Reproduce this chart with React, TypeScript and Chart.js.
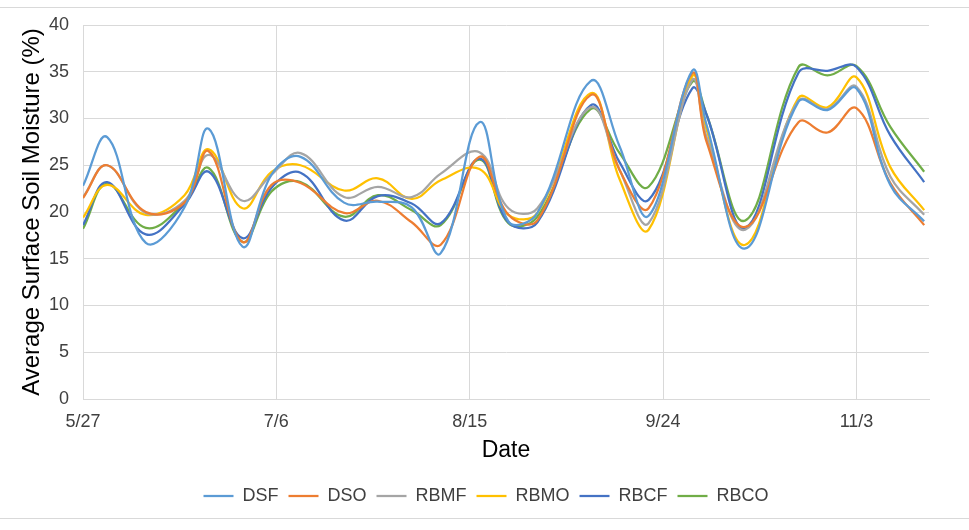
import { useEffect, useRef } from "react";
import { Chart, registerables } from "chart.js";

Chart.register(...registerables);

const dates = [
  "5/27", "6/1", "6/9", "6/17", "6/22", "6/29", "7/5", "7/11", "7/20", "7/27",
  "8/3", "8/9", "8/17", "8/23", "8/29", "9/9", "9/15", "9/21", "9/30", "10/3",
  "10/11", "10/22", "10/28", "11/3", "11/10", "11/17",
];

const DSF = [22.8, 28.0, 16.7, 20.5, 28.9, 16.3, 24.0, 25.9, 21.0, 21.1, 20.5, 15.6, 29.6, 19.0, 19.9, 34.0, 27.0, 19.6, 35.1, 29.3, 16.1, 31.8, 30.9, 33.2, 22.9, 19.0];
const DSO = [21.5, 25.0, 20.0, 21.0, 26.5, 16.8, 22.9, 23.1, 19.9, 21.2, 18.9, 16.5, 25.9, 19.7, 19.1, 32.5, 24.5, 20.4, 34.8, 27.5, 18.4, 29.6, 28.5, 31.1, 23.1, 18.6];
const RBMF = [21.6, 25.0, 19.9, 21.2, 26.1, 21.2, 24.0, 26.3, 21.6, 22.7, 21.6, 24.1, 26.4, 20.4, 20.4, 31.2, 24.5, 18.8, 34.1, 28.0, 18.1, 31.9, 31.0, 33.4, 23.8, 19.7];
const RBMO = [19.4, 22.9, 19.7, 21.8, 26.7, 20.4, 24.3, 25.0, 22.3, 23.6, 21.4, 23.4, 24.6, 19.7, 19.9, 32.7, 23.5, 18.1, 34.5, 28.8, 16.5, 32.2, 31.2, 34.4, 24.8, 20.2];
const RBCF = [18.6, 23.2, 17.6, 20.8, 24.3, 17.2, 22.6, 24.2, 19.1, 21.7, 20.9, 18.8, 25.7, 18.9, 18.9, 31.4, 25.3, 21.3, 33.2, 30.4, 18.3, 34.9, 35.1, 35.5, 28.2, 23.2];
const RBCO = [18.2, 23.0, 18.3, 21.0, 24.7, 16.8, 22.2, 23.2, 19.5, 21.8, 20.2, 18.6, 25.6, 18.8, 19.5, 31.0, 26.3, 22.7, 33.9, 30.4, 19.1, 35.5, 34.6, 35.6, 29.1, 24.3];

const seriesNames = ["DSF", "DSO", "RBMF", "RBMO", "RBCF", "RBCO"];
const seriesValues = [DSF, DSO, RBMF, RBMO, RBCF, RBCO];
const seriesColors = ["#5B9BD5", "#ED7D31", "#A5A5A5", "#FFC000", "#4472C4", "#70AD47"];

const xTickLabels = ["5/27", "7/6", "8/15", "9/24", "11/3"];
const xMinLabel = "5/27";
const xMaxLabel = "11/18";

const FONT = "'Liberation Sans', Arial, Helvetica, sans-serif";
const YEAR = 2019;

function dayOffset(s: string): number {
  const [m, d] = s.split("/").map(Number);
  const [bm, bd] = xMinLabel.split("/").map(Number);
  return Math.round(
    (Date.UTC(YEAR, m - 1, d) - Date.UTC(YEAR, bm - 1, bd)) / 86400000
  );
}

function dayLabel(v: number): string {
  const [bm, bd] = xMinLabel.split("/").map(Number);
  const dt = new Date(Date.UTC(YEAR, bm - 1, bd + Math.round(v)));
  return `${dt.getUTCMonth() + 1}/${dt.getUTCDate()}`;
}

export default function App() {
  const ref = useRef<HTMLCanvasElement | null>(null);

  useEffect(() => {
    if (!ref.current) return;
    const chart = new Chart(ref.current, {
      type: "line",
      data: {
        datasets: seriesNames.map((name, i) => ({
          label: name,
          data: dates.map((d, j) => ({ x: dayOffset(d), y: seriesValues[i][j] })),
          borderColor: seriesColors[i],
          backgroundColor: seriesColors[i],
          borderWidth: 2.25,
          pointRadius: 0,
          pointHoverRadius: 0,
          tension: 0.4,
          fill: false,
        })),
      },
      options: {
        responsive: false,
        animation: false,
        layout: { padding: { left: 43, right: 40, top: 25, bottom: 15 } },
        plugins: {
          legend: {
            position: "bottom",
            labels: {
              usePointStyle: true,
              pointStyle: "line",
              pointStyleWidth: 30,
              font: { family: FONT, size: 18 },
              color: "#404040",
              padding: 10,
            },
          },
          tooltip: { enabled: false },
        },
        scales: {
          x: {
            type: "linear",
            min: dayOffset(xMinLabel),
            max: dayOffset(xMaxLabel),
            afterBuildTicks: (s: any) => {
              s.ticks = xTickLabels.map((l) => ({ value: dayOffset(l) }));
            },
            afterFit: (s: any) => {
              s.height = 78;
            },
            ticks: {
              callback: (v: any) => dayLabel(Number(v)),
              font: { family: FONT, size: 18 },
              color: "#404040",
              padding: 12,
              maxRotation: 0,
              autoSkip: false,
            },
            grid: { color: "#d9d9d9", lineWidth: 1, drawTicks: false },
            border: { color: "#d9d9d9" },
            title: {
              display: true,
              text: "Date",
              font: { family: FONT, size: 23 },
              color: "#000000",
              padding: { top: 4, bottom: 13 },
            },
          },
          y: {
            min: 0,
            max: 40,
            afterFit: (s: any) => {
              s.width = 40;
            },
            ticks: {
              stepSize: 5,
              font: { family: FONT, size: 18 },
              color: "#404040",
              padding: 14,
            },
            grid: { color: "#d9d9d9", lineWidth: 1, drawTicks: false },
            border: { color: "#d9d9d9" },
            title: {
              display: true,
              text: "Average Surface Soil Moisture (%)",
              font: { family: FONT, size: 24 },
              color: "#000000",
              padding: { top: -25, bottom: 0 },
            },
          },
        },
      },
    } as any);
    return () => chart.destroy();
  }, []);

  return (
    <>
      <div
        style={{
          position: "fixed",
          left: 0,
          top: 0,
          width: 969,
          height: 530,
          background: "#ffffff",
        }}
      >
        <canvas ref={ref} width={969} height={530} style={{ display: "block" }} />
      </div>
      <div
        style={{
          position: "fixed",
          left: 0,
          top: 7,
          width: 969,
          height: 510,
          borderTop: "1px solid #d9d9d9",
          borderBottom: "1px solid #d9d9d9",
          pointerEvents: "none",
        }}
      />
    </>
  );
}
